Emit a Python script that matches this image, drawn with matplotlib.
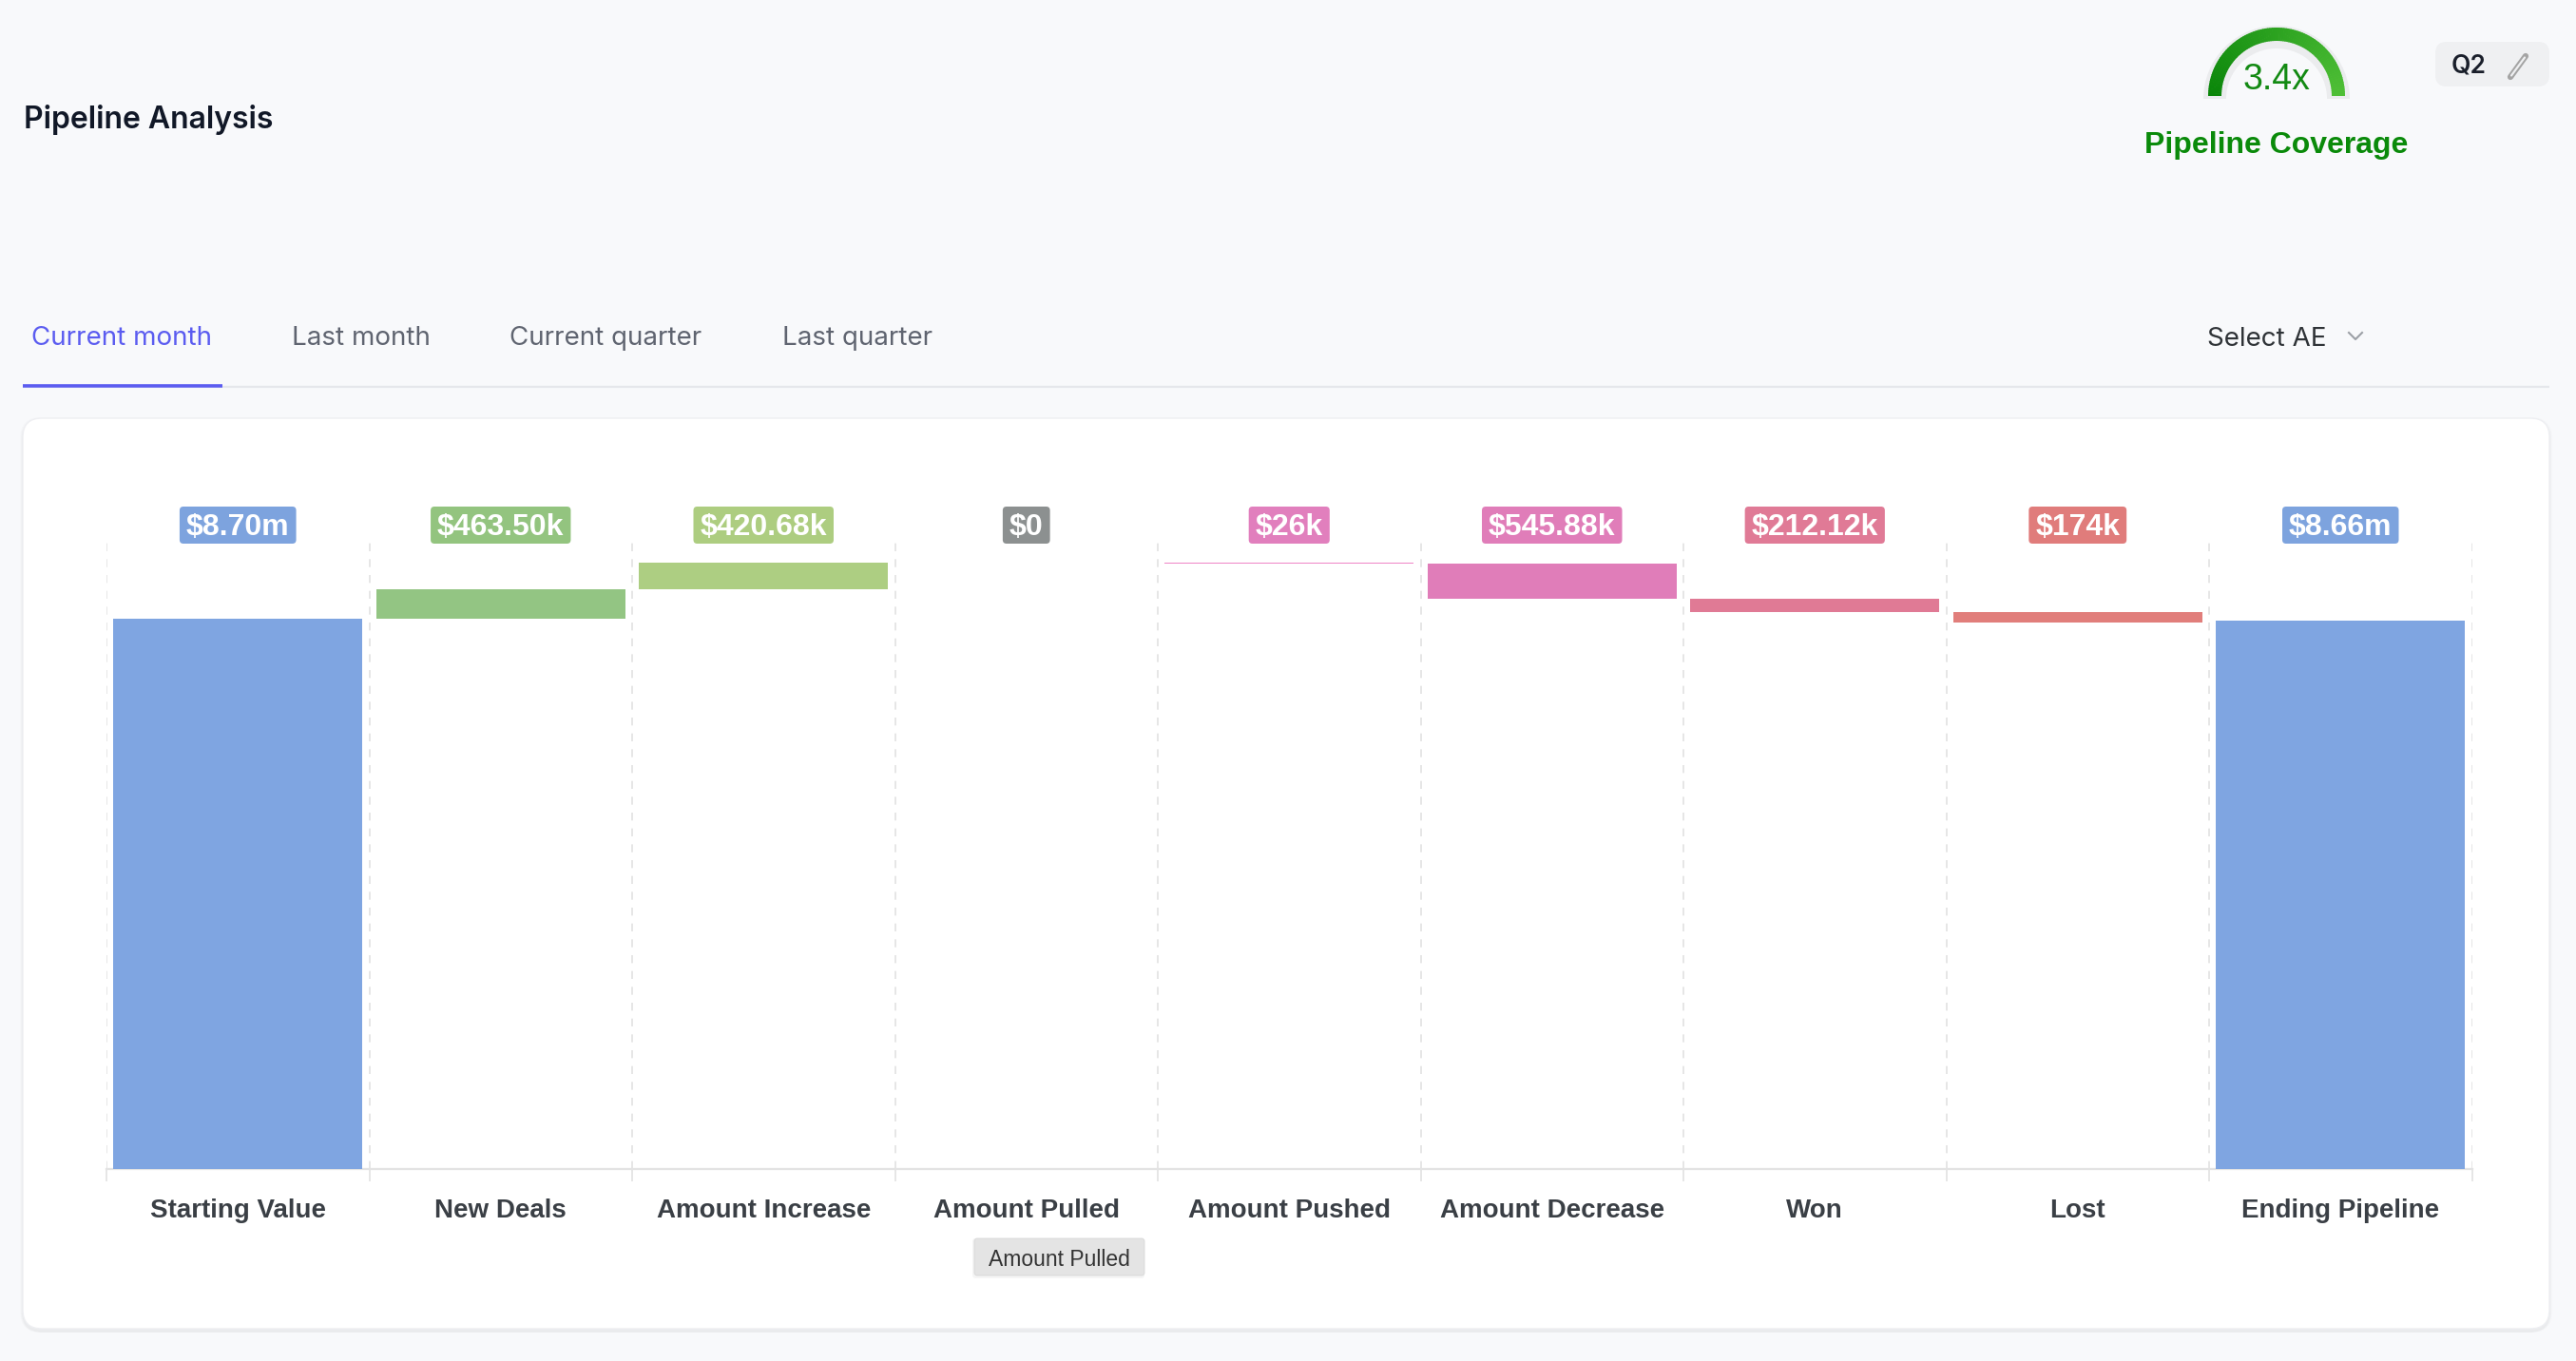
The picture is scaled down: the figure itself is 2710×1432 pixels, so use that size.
import numpy as np
import matplotlib
matplotlib.use('Agg')
import matplotlib.pyplot as plt
from matplotlib.patches import FancyBboxPatch, Wedge
from matplotlib.transforms import IdentityTransform, blended_transform_factory
from matplotlib.colors import to_rgb

W, H = 2710, 1432

# chart data
categories = ['Starting Value', 'New Deals', 'Amount Increase', 'Amount Pulled', 'Amount Pushed',
              'Amount Decrease', 'Won', 'Lost', 'Ending Pipeline']
values = [8.70e6, 463.50e3, 420.68e3, 0, -26e3, -545.88e3, -212.12e3, -174e3, 8.66e6]
is_total = [True, False, False, False, False, False, False, False, True]
value_labels = ['$8.70m', '$463.50k', '$420.68k', '$0', '$26k', '$545.88k', '$212.12k', '$174k', '$8.66m']
bar_colors = ['#7fa5e1', '#93c583', '#adce82', '#8c9090', '#ee84c6', '#e07db9', '#e07a95', '#e17e7b', '#7fa5e1']
label_colors = ['#7da3de', '#93c47f', '#adcd80', '#8c9090', '#e17fbd', '#e07db9', '#e07a96', '#e07c7b', '#7da3de']

tabs = ['Current month', 'Last month', 'Current quarter', 'Last quarter']
tab_x = [33, 307, 536, 823]
coverage = '3.4x'
quarter = 'Q2'

fig = plt.figure(figsize=(W / 100, H / 100), dpi=100)
fig.patch.set_facecolor('#f8f9fb')

# background layer in pixel coordinates
bg = fig.add_axes([0, 0, 1, 1])
bg.set_xlim(0, W)
bg.set_ylim(H, 0)
bg.axis('off')
bg.set_zorder(0)

# card with soft shadow
for i, a in enumerate([0.012, 0.018, 0.025]):
    bg.add_patch(FancyBboxPatch((24 - 3 + i, 440 - 1 + i), 2658 + 6 - 2 * i, 958 + 5 - i,
                                boxstyle='round,pad=0,rounding_size=22', fc='black', ec='none', alpha=a))
bg.add_patch(FancyBboxPatch((24, 440), 2658, 958, boxstyle='round,pad=0,rounding_size=20',
                            fc='white', ec='#eeeff2', lw=1))

# title
bg.text(25, 126, 'Pipeline Analysis', family='Inter', fontsize=23, fontweight='semibold',
        color='#111827', va='center', ha='left')

# tabs
for i, (t, x) in enumerate(zip(tabs, tab_x)):
    bg.text(x, 356, t, family='Inter', fontsize=20, color='#5b5cf0' if i == 0 else '#5f6470',
            va='center', ha='left')
bg.plot([24, 2682], [407, 407], color='#e5e7eb', lw=1.6, solid_capstyle='butt')
bg.plot([24, 234], [406, 406], color='#5b5cf0', lw=2.6, solid_capstyle='butt')

# select AE dropdown
bg.text(2322, 357, 'Select AE', family='Inter', fontsize=20, color='#2f3337', va='center', ha='left')
bg.plot([2471, 2478, 2485], [350, 357, 350], color='#9ca0a6', lw=1.5)

# gauge
cx, cy, r_out, thick = 2395, 101, 72, 14
bg.add_patch(Wedge((cx, cy + 3), r_out + 5, 180, 360, width=thick + 10, fc='black', ec='none', alpha=0.05))
c0, c1 = np.array(to_rgb('#0a860a')), np.array(to_rgb('#4fbf36'))
n = 90
for k in range(n):
    t1 = 180 + 180 * k / n
    t2 = 180 + 180 * (k + 1) / n + 0.6
    f = k / (n - 1)
    bg.add_patch(Wedge((cx, cy), r_out, t1, min(t2, 360), width=thick, fc=c0 + (c1 - c0) * f, ec='none'))
bg.text(cx, 84, coverage, family='Liberation Sans', fontsize=27, color='#138a13', ha='center', va='center')
bg.text(cx, 153, 'Pipeline Coverage', family='Liberation Sans', fontsize=23, fontweight='bold',
        color='#0a8a0a', ha='center', va='center')

# quarter chip
bg.add_patch(FancyBboxPatch((2562, 44), 120, 47, boxstyle='round,pad=0,rounding_size=12',
                            fc='#eff0f2', ec='none'))
bg.text(2597, 69, quarter, family='Inter', fontsize=19, fontweight='semibold', color='#1a1f2b',
        ha='center', va='center')
bg.plot([2641, 2657], [81, 59], color='#a4a4a4', lw=4.5, solid_capstyle='round')
bg.plot([2642, 2656], [79.5, 60.5], color='#eff0f2', lw=1.6, solid_capstyle='round')

# tooltip
bg.add_patch(FancyBboxPatch((1023, 1303), 181, 42, boxstyle='round,pad=0,rounding_size=3',
                            fc='black', ec='none', alpha=0.04))
bg.add_patch(FancyBboxPatch((1025, 1303), 179, 39, boxstyle='round,pad=0,rounding_size=3',
                            fc='#e4e4e4', ec='#d8d8d8', lw=0.6))
bg.text(1114.5, 1325, 'Amount Pulled', family='Liberation Sans', fontsize=16.5, color='#333333',
        ha='center', va='center')

# waterfall chart
x0, x1, ytop, ybase = 112, 2600.5, 564, 1230
ax = fig.add_axes([x0 / W, 1 - ybase / H, (x1 - x0) / W, (ybase - ytop) / H])
ax.set_zorder(1)
ax.patch.set_alpha(0)

x = np.arange(len(categories))
bottoms, heights = [], []
running = 0
for v, tot in zip(values, is_total):
    if tot:
        bottoms.append(0)
        heights.append(v)
        running = v
    else:
        bottoms.append(running)
        heights.append(v)
        running += v
ax.bar(x, heights, bottom=bottoms, width=0.948, color=bar_colors, linewidth=0, zorder=3)

ax.set_xlim(-0.5, len(categories) - 0.5)
ax.set_ylim(0, 10e6)
ax.set_yticks([])
for s in ['left', 'right', 'top']:
    ax.spines[s].set_visible(False)
ax.spines['bottom'].set_color('#e3e3e3')
ax.spines['bottom'].set_linewidth(1.6)

ax.set_xticks(x)
ax.set_xticklabels(categories, family='Liberation Sans', fontsize=20, fontweight='bold', color='#3a3f45')
ax.set_xticks(np.arange(-0.5, len(categories), 1), minor=True)
ax.tick_params(axis='x', which='major', length=0, pad=22)
ax.tick_params(axis='x', which='minor', length=9, color='#e2e2e2', width=1.2)
ax.grid(which='minor', axis='x', linestyle=(0, (5, 5)), color='#e2e2e2', lw=1.2)
ax.set_axisbelow(True)

trans = blended_transform_factory(ax.transData, ax.transAxes)
texts = []
for i, lab in enumerate(value_labels):
    t = ax.text(i, (ybase - 555.5) / (ybase - ytop), lab, transform=trans, family='Liberation Sans',
                fontsize=23, fontweight='bold', color='white', ha='center', va='center', zorder=6)
    texts.append(t)

fig.canvas.draw()
rend = fig.canvas.get_renderer()
for t, c in zip(texts, label_colors):
    bb = t.get_window_extent(rend)
    mx, my = (bb.x0 + bb.x1) / 2, (bb.y0 + bb.y1) / 2
    w, h = bb.width + 14, 39
    # box centred on the glyphs, i.e. slightly above the layout centre
    ax.add_patch(FancyBboxPatch((mx - w / 2, my - h / 2 + 3), w, h, boxstyle='round,pad=0,rounding_size=4',
                                transform=IdentityTransform(), fc=c, ec='none', clip_on=False, zorder=5))

fig.savefig('out.png', dpi=100)
